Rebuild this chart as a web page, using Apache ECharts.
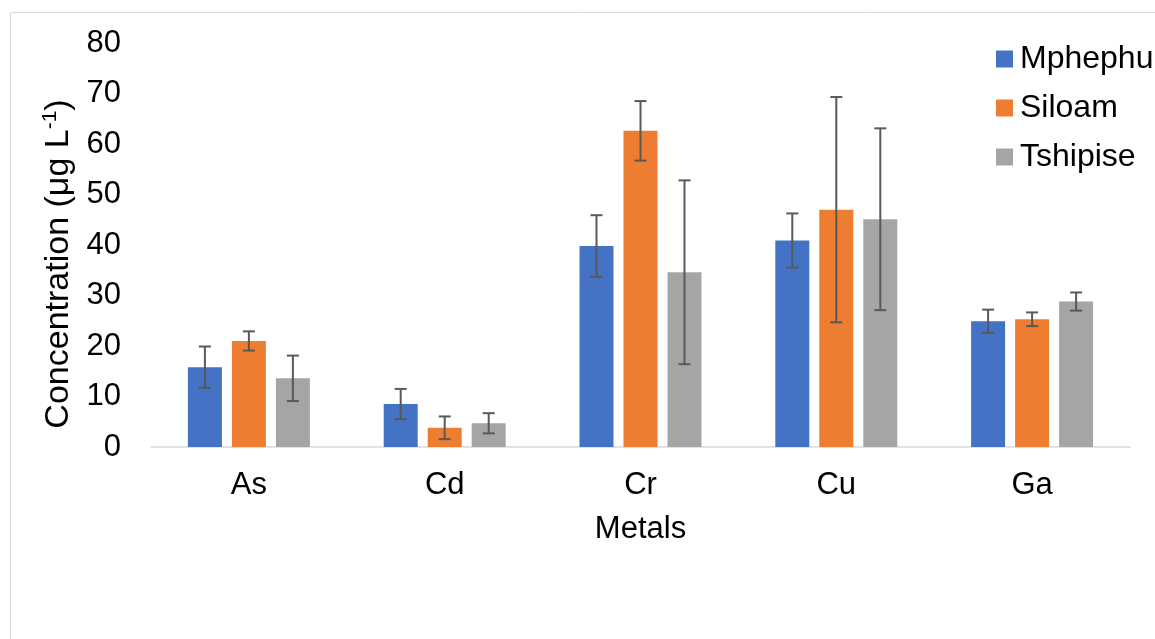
<!DOCTYPE html>
<html>
<head>
<meta charset="utf-8">
<script src="https://cdn.jsdelivr.net/npm/echarts@6/dist/echarts.min.js"></script>
<style>
html,body{margin:0;padding:0;background:#fff;}
#c{width:1155px;height:639px;}
</style>
</head>
<body>
<div id="c"></div>
<script>
const categories = ['As', 'Cd', 'Cr', 'Cu', 'Ga'];
const seriesNames = ['Mphephu', 'Siloam', 'Tshipise'];
const mphephu = [15.8, 8.5, 39.8, 40.9, 24.9];
const siloam = [21.0, 3.8, 62.6, 47.0, 25.3];
const tshipise = [13.6, 4.7, 34.6, 45.1, 28.8];
const mphephuErr = [4.1, 3.0, 6.1, 5.35, 2.3];
const siloamErr = [1.9, 2.25, 5.9, 22.3, 1.35];
const tshipiseErr = [4.5, 2.0, 18.2, 18.0, 1.8];
const yTicks = [0, 10, 20, 30, 40, 50, 60, 70, 80];

const colors = ['#4472C4', '#ED7D31', '#A5A5A5'];
const values = [mphephu, siloam, tshipise];
const errors = [mphephuErr, siloamErr, tshipiseErr];
const BAR_W = 34, BAR_GAP = 10;
const FONT = '"Liberation Sans", Arial, sans-serif';

const chart = echarts.init(document.getElementById('c'), null, {renderer: 'canvas'});

const barSeries = seriesNames.map((n, i) => ({
  name: n,
  type: 'bar',
  data: values[i],
  barWidth: BAR_W,
  barGap: (BAR_GAP / BAR_W * 100).toFixed(1) + '%',
  itemStyle: {color: colors[i]},
  emphasis: {disabled: true}
}));

const errSeries = seriesNames.map((n, i) => ({
  name: n + ' error',
  type: 'custom',
  z: 5,
  silent: true,
  data: categories.map((c, k) => [k, values[i][k], errors[i][k]]),
  renderItem: function (params, api) {
    const k = api.value(0), v = api.value(1), e = api.value(2);
    const off = (i - 1) * (BAR_W + BAR_GAP);
    const hi = api.coord([k, v + e]);
    const lo = api.coord([k, v - e]);
    const x = hi[0] + off;
    const cap = 6;
    const st = {stroke: '#595959', lineWidth: 2};
    return {
      type: 'group',
      children: [
        {type: 'line', shape: {x1: x, y1: hi[1], x2: x, y2: lo[1]}, style: st},
        {type: 'line', shape: {x1: x - cap, y1: hi[1], x2: x + cap, y2: hi[1]}, style: st},
        {type: 'line', shape: {x1: x - cap, y1: lo[1], x2: x + cap, y2: lo[1]}, style: st}
      ]
    };
  }
}));

chart.setOption({
  animation: false,
  backgroundColor: '#ffffff',
  textStyle: {fontFamily: FONT, color: '#000'},
  graphic: [{
    type: 'rect',
    shape: {x: 10.5, y: 12.5, width: 1300, height: 800},
    style: {fill: 'none', stroke: '#D9D9D9', lineWidth: 1},
    silent: true, z: -10
  }],
  grid: {left: 151, right: 25, top: 43, bottom: 192, containLabel: false},
  legend: {
    data: seriesNames,
    orient: 'vertical',
    left: 996,
    top: 43,
    padding: 0,
    itemWidth: 17,
    itemHeight: 17,
    itemGap: 17,
    icon: 'rect',
    selectedMode: false,
    textStyle: {fontSize: 32, fontFamily: FONT, color: '#000', lineHeight: 30, padding: [0, 0, 0, 2]}
  },
  xAxis: {
    type: 'category',
    data: categories,
    name: 'Metals',
    nameLocation: 'middle',
    nameGap: 67,
    nameTextStyle: {fontSize: 31, fontFamily: FONT, color: '#000', verticalAlign: 'top'},
    axisLine: {lineStyle: {color: '#D9D9D9', width: 1.5}},
    axisTick: {show: false},
    axisLabel: {fontSize: 31, fontFamily: FONT, color: '#000', margin: 23}
  },
  yAxis: {
    type: 'value',
    min: yTicks[0],
    max: yTicks[yTicks.length - 1],
    interval: yTicks[1] - yTicks[0],
    name: '{n|Concentration (μg L}{s|-1}{n|)}',
    nameLocation: 'middle',
    nameGap: 72,
    nameRotate: 90,
    nameTextStyle: {
      padding: [0, 38, 0, 0],
      rich: {
        n: {fontSize: 34, fontFamily: FONT, color: '#000'},
        s: {fontSize: 21, fontFamily: FONT, color: '#000', padding: [0, 0, 16, 0]}
      }
    },
    splitLine: {show: false},
    axisLine: {show: false},
    axisTick: {show: false},
    axisLabel: {fontSize: 31, fontFamily: FONT, color: '#000', margin: 30}
  },
  series: barSeries.concat(errSeries)
});
</script>
</body>
</html>
